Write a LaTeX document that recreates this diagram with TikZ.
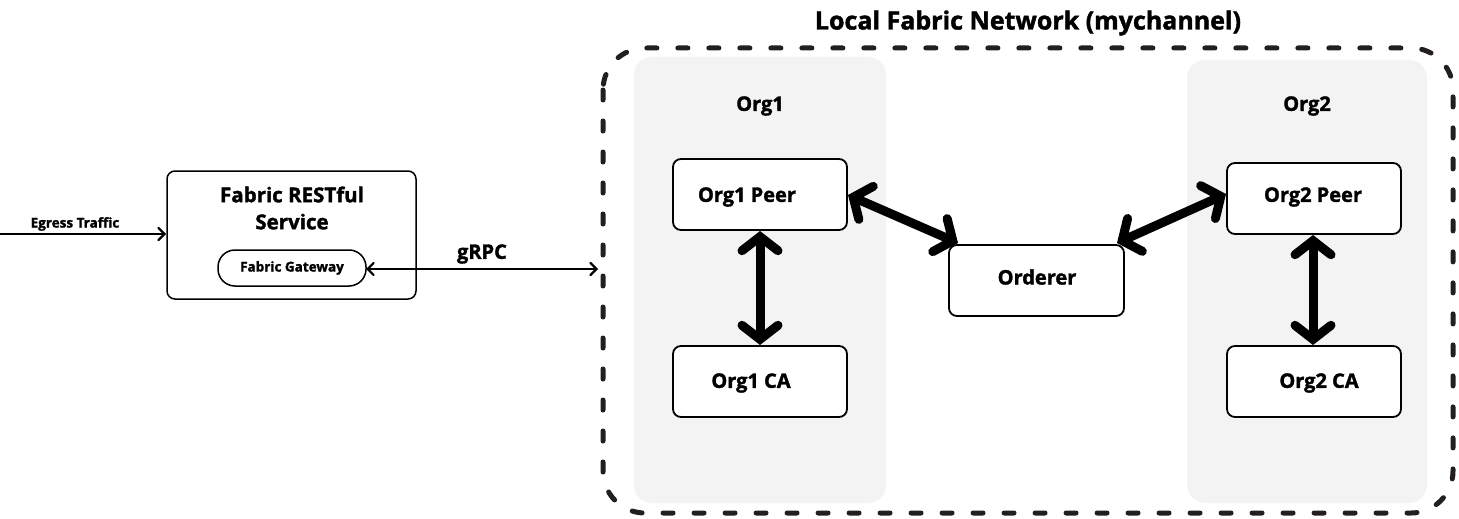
\documentclass[tikz,border=0pt]{standalone}
\usepackage{fontspec}
\setmainfont{Open Sans}[BoldFeatures={FakeBold=1.6}]
\usetikzlibrary{arrows.meta}
\definecolor{panel}{HTML}{F3F3F3}
\definecolor{dashcol}{HTML}{231F20}
\begin{document}
\begin{tikzpicture}[x=1pt,y=-1pt,
  box/.style={draw=black,line width=1.8pt,rounded corners=8pt,fill=white},
  lbl/.style={font=\fontsize{20}{23}\selectfont\bfseries,inner sep=0pt},
  small/.style={font=\fontsize{13.5}{15}\selectfont\bfseries,inner sep=0pt},
  thin/.style={line width=2.2pt,{Straight Barb[length=6pt,width=12pt,line cap=round]}-{Straight Barb[length=6pt,width=12pt,line cap=round]}},
  thick/.style={line width=9pt,line cap=round,{Straight Barb[length=14pt,width=36pt,line cap=round]}-{Straight Barb[length=14pt,width=36pt,line cap=round]}}
]
\useasboundingbox (0,0) rectangle (1459,519);
% panels
\fill[panel,rounded corners=18pt] (634,57) rectangle (886,503);
\fill[panel,rounded corners=18pt] (1187,60) rectangle (1427,503);
% dashed outer
\draw[draw=dashcol,line width=5pt,line cap=round,dash pattern=on 10pt off 21pt,rounded corners=42pt] (603,48) rectangle (1453,513);
\node[font=\fontsize{25}{28}\selectfont\bfseries,inner sep=0pt] (title) at (1028,23) {Local Fabric Network (mychannel)};
\node[lbl] (org1) at (760,106) {Org1};
\node[lbl] (org2) at (1307,106) {Org2};
% boxes
\draw[box] (673,159) rectangle (847,230);
\node[lbl] (peer1) at (747,197) {Org1 Peer};
\coordinate (p1r) at (848,195);
\coordinate (p1b) at (760,231);
\draw[box] (673,346) rectangle (847,417);
\node[lbl] (ca1) at (751,383) {Org1 CA};
\coordinate (c1t) at (760,345);
\draw[box] (949,245) rectangle (1124,316);
\node[lbl] (ord) at (1037,277) {Orderer};
\coordinate (ol) at (958,243);
\coordinate (or) at (1117,243);
\draw[box] (1227,163) rectangle (1401,234);
\node[lbl] (peer2) at (1313,197) {Org2 Peer};
\coordinate (p2l) at (1226,194);
\coordinate (p2b) at (1313,235);
\draw[box] (1227,346) rectangle (1401,417);
\node[lbl] (ca2) at (1319,383) {Org2 CA};
\coordinate (c2t) at (1313,345);
% REST service
\draw[box,line width=1.5pt] (167,171) rectangle (416,299);
\node[lbl,align=center,font=\fontsize{20.5}{27}\selectfont\bfseries] (rest) at (292,208) {Fabric RESTful\\Service};
\draw[line width=1.5pt,rounded corners=17pt,fill=white] (218,250) rectangle (366,286);
\node[small] (gw) at (292,268) {Fabric Gateway};
\coordinate (gwr) at (366,269);
\coordinate (net) at (598,269);
\coordinate (ein) at (0,234);
\coordinate (eout) at (166,234);
\node[small] (egl) at (75,224) {Egress Traffic};
\node[lbl] (grpc) at (482,254) {gRPC};
% arrows
\draw[line width=2.2pt,-{Straight Barb[length=6pt,width=12pt,line cap=round]}] (ein) -- (eout);
\draw[thin] (gwr) -- (net);
\draw[thick] (p1r) -- (ol);
\draw[thick] (or) -- (p2l);
\draw[thick] (p1b) -- (c1t);
\draw[thick] (p2b) -- (c2t);
\end{tikzpicture}
\end{document}
